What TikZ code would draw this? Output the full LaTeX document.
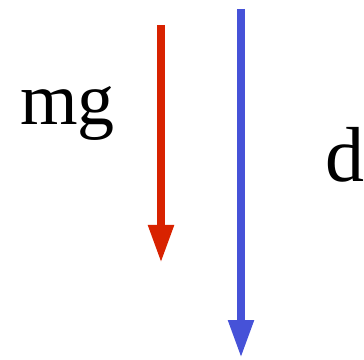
\documentclass[tikz,border=0pt]{standalone}
\usepackage{fontspec}
\setmainfont{Liberation Serif}
\usetikzlibrary{arrows.meta}
\definecolor{forcered}{RGB}{216,34,0}
\definecolor{dispblue}{RGB}{70,82,216}
\begin{document}
\begin{tikzpicture}[
  x=1pt, y=1pt,
  vec/.style={line width=8pt, -{Triangle[length=38pt, width=24pt]}},
  lbl/.style={anchor=base west, inner sep=0pt, font=\fontsize{78}{80}\selectfont}
]
  \useasboundingbox (0,0) rectangle (364,359);

  \coordinate (f0) at (161, 334);
  \coordinate (f1) at (161, 96);
  \coordinate (d0) at (241, 350);
  \coordinate (d1) at (241, 1);

  \draw[vec, forcered] (f0) -- (f1);
  \draw[vec, dispblue] (d0) -- (d1);

  \node[lbl, font=\fontsize{74}{80}\selectfont] (mg) at (20, 234) {mg};
  \node[lbl] (d) at (325, 177) {d};
\end{tikzpicture}
\end{document}
